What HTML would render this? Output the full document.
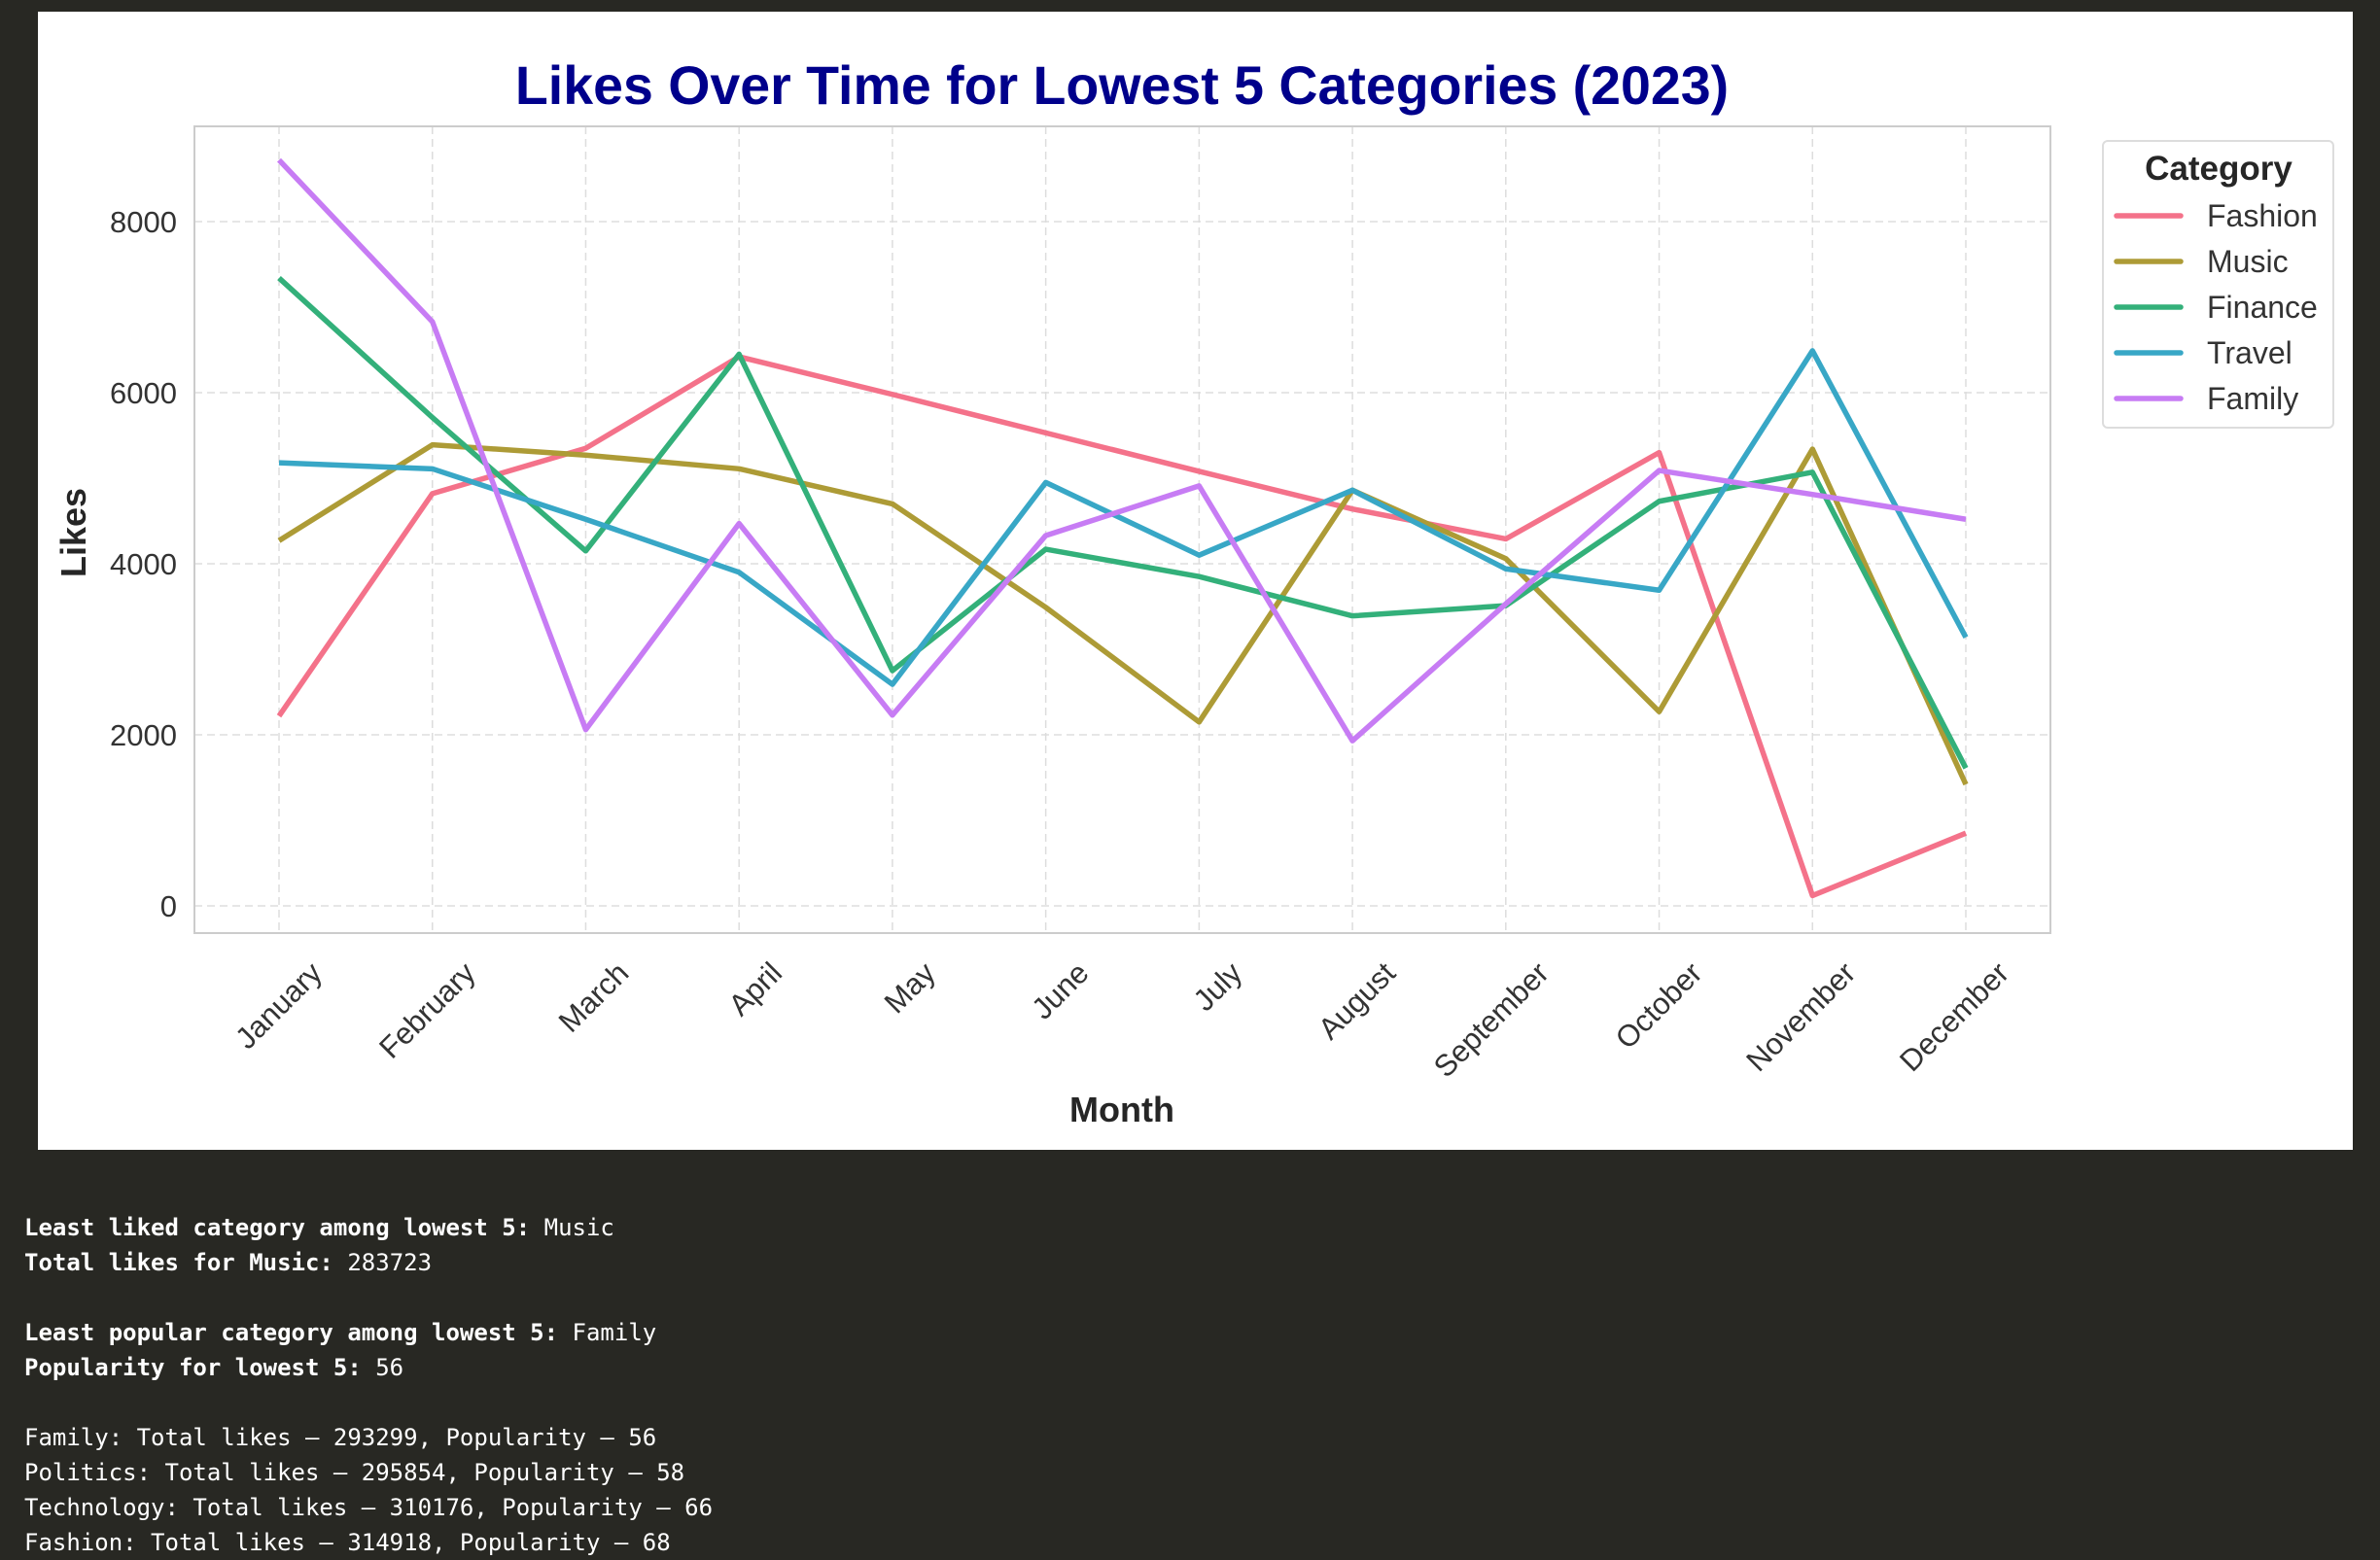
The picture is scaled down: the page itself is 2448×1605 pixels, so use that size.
<!DOCTYPE html>
<html><head><meta charset="utf-8"><style>
body{margin:0;width:2448px;height:1604px;background:#282823;overflow:hidden;font-family:"Liberation Sans",sans-serif}
#panel{position:absolute;left:39px;top:12px;width:2381px;height:1171px;background:#fff}
#out{position:absolute;left:25px;top:1245px;color:#fff;font-family:"DejaVu Sans Mono","Liberation Mono",monospace;font-size:24px;line-height:36px;white-space:pre}
b{font-weight:bold}
</style></head><body>
<div id="panel"></div>
<svg id="chart" width="2448" height="1604" style="position:absolute;left:0;top:0"></svg>
<div id="out"><b>Least liked category among lowest 5:</b> Music
<b>Total likes for Music:</b> 283723

<b>Least popular category among lowest 5:</b> Family
<b>Popularity for lowest 5:</b> 56

Family: Total likes – 293299, Popularity – 56
Politics: Total likes – 295854, Popularity – 58
Technology: Total likes – 310176, Popularity – 66
Fashion: Total likes – 314918, Popularity – 68</div>
<script>
const months=["January","February","March","April","May","June","July","August","September","October","November","December"];
const seriesNames=["Fashion","Music","Finance","Travel","Family"];
const fashion=[2220,4820,5350,6420,5980,5530,5080,4640,4290,5300,120,850];
const music=[4270,5390,5270,5110,4700,3490,2150,4860,4060,2270,5340,1420];
const finance=[7340,5710,4150,6450,2750,4170,3850,3390,3510,4730,5070,1610];
const travel=[5180,5110,4520,3900,2590,4950,4100,4860,3940,3690,6490,3140];
const family=[8720,6830,2060,4470,2230,4330,4910,1930,3530,5090,4810,4520];
const yTicks=[0,2000,4000,6000,8000];
const colors=["#f4728a","#ad9b36","#33b07a","#38a7c6","#c77cf4"];
const allSeries=[fashion,music,finance,travel,family];
const svg=document.getElementById('chart');const NS="http://www.w3.org/2000/svg";
function el(t,a,p){const e=document.createElementNS(NS,t);for(const k in a)e.setAttribute(k,a[k]);(p||svg).appendChild(e);return e;}
const L=200,R=2109,T=130,B=960;
const x=i=>287+i*(2022-287)/11;
const y=v=>932-v*704/8000;
yTicks.forEach(v=>{const g=el('line',{x1:L,x2:R,y1:y(v),y2:y(v),stroke:'#ddd','stroke-width':1.5,'stroke-dasharray':'8,5'});

const t=el('text',{x:182,y:y(v)+11,'text-anchor':'end','font-size':31,fill:'#333'});t.textContent=v;
});
months.forEach((m,i)=>{const g=el('line',{x1:x(i),x2:x(i),y1:T,y2:B,stroke:'#ddd','stroke-width':1.5,'stroke-dasharray':'8,5'});

const ax=x(i)+46,ay=1003;
const t=el('text',{x:ax,y:ay,'text-anchor':'end','font-size':31,fill:'#333',transform:`rotate(-45 ${ax} ${ay})`});t.textContent=m;
});
const fr=el('rect',{x:L,y:T,width:R-L,height:B-T,fill:'none',stroke:'#ccc','stroke-width':2});

allSeries.forEach((s,k)=>{const p=el('polyline',{points:s.map((v,i)=>x(i)+','+y(v)).join(' '),fill:'none',stroke:colors[k],'stroke-width':5.5,'stroke-linejoin':'round'});
});
const ti=el('text',{x:1154,y:107,'text-anchor':'middle','font-size':55.5,'font-weight':'bold',fill:'#00008b'});ti.textContent="Likes Over Time for Lowest 5 Categories (2023)";

const yl=el('text',{x:88,y:548,'text-anchor':'middle','font-size':36,'font-weight':'bold',fill:'#262626',transform:'rotate(-90 88 548)'});yl.textContent="Likes";

const xl=el('text',{x:1154,y:1154,'text-anchor':'middle','font-size':36,'font-weight':'bold',fill:'#262626'});xl.textContent="Month";

const lg=el('g',{});
el('rect',{x:2163,y:145,width:237,height:295,rx:5,fill:'#fff',stroke:'#ddd','stroke-width':2},lg);
const lt=el('text',{x:2282,y:185,'text-anchor':'middle','font-size':35,'font-weight':'bold',fill:'#262626'},lg);lt.textContent="Category";

seriesNames.forEach((n,k)=>{const yy=222+k*47;
const g=el('g',{},lg);
el('line',{x1:2177,x2:2243,y1:yy,y2:yy,stroke:colors[k],'stroke-width':5.5,'stroke-linecap':'round'},g);
const t=el('text',{x:2270,y:yy+11,'font-size':32,fill:'#333'},g);t.textContent=n;});
</script>
</body></html>
